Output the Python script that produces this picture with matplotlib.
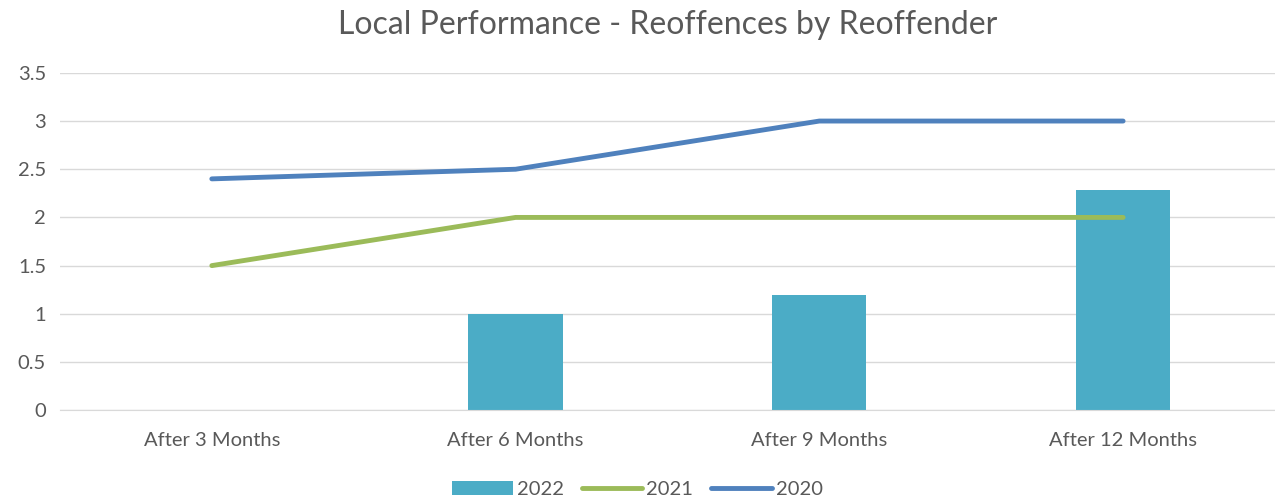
import matplotlib
matplotlib.use("Agg")
import matplotlib.pyplot as plt
import numpy as np

categories = ['After 3 Months', 'After 6 Months', 'After 9 Months', 'After 12 Months']
vals_2022 = [0, 1, 1.2, 2.28]
vals_2021 = [1.5, 2, 2, 2]
vals_2020 = [2.4, 2.5, 3, 3]

plt.rcParams['font.family'] = ['Lato', 'DejaVu Sans']
grey = '#595959'

fig = plt.figure(figsize=(12.75, 4.99), dpi=100)
ax = fig.add_axes([0.047, 0.178, 0.953, 0.676])

x = np.arange(len(categories))
b = ax.bar(x, vals_2022, width=0.31, color='#4BACC6', label='2022', zorder=2)
l1, = ax.plot(x, vals_2021, color='#9BBB59', lw=3.5, solid_capstyle='round', label='2021', zorder=3)
l2, = ax.plot(x, vals_2020, color='#4F81BD', lw=3.5, solid_capstyle='round', label='2020', zorder=3)

ax.set_xlim(-0.5, 3.5)
ax.set_ylim(0, 3.5)
ax.set_yticks(np.arange(0, 3.51, 0.5))
ax.set_yticklabels(['0', '0.5', '1', '1.5', '2', '2.5', '3', '3.5'])
ax.set_xticks(x)
ax.set_xticklabels(categories)
ax.grid(axis='y', color='#D9D9D9', lw=1, zorder=0)
for s in ['top', 'right', 'left']:
    ax.spines[s].set_visible(False)
ax.spines['bottom'].set_color('#D9D9D9')
ax.tick_params(axis='both', length=0, labelsize=14.5, colors=grey, pad=10)
ax.tick_params(axis='x', pad=16)

ax.set_title('Local Performance - Reoffences by Reoffender', fontsize=23, color=grey, pad=28)

leg = fig.legend([b, l1, l2], ['2022', '2021', '2020'], loc='lower center',
                 bbox_to_anchor=(0.5, -0.035), ncol=3, frameon=False,
                 fontsize=14.5, handlelength=3.0, columnspacing=0.9, handletextpad=0.2)
for t in leg.get_texts():
    t.set_color(grey)

fig.savefig('out.png', dpi=100)
